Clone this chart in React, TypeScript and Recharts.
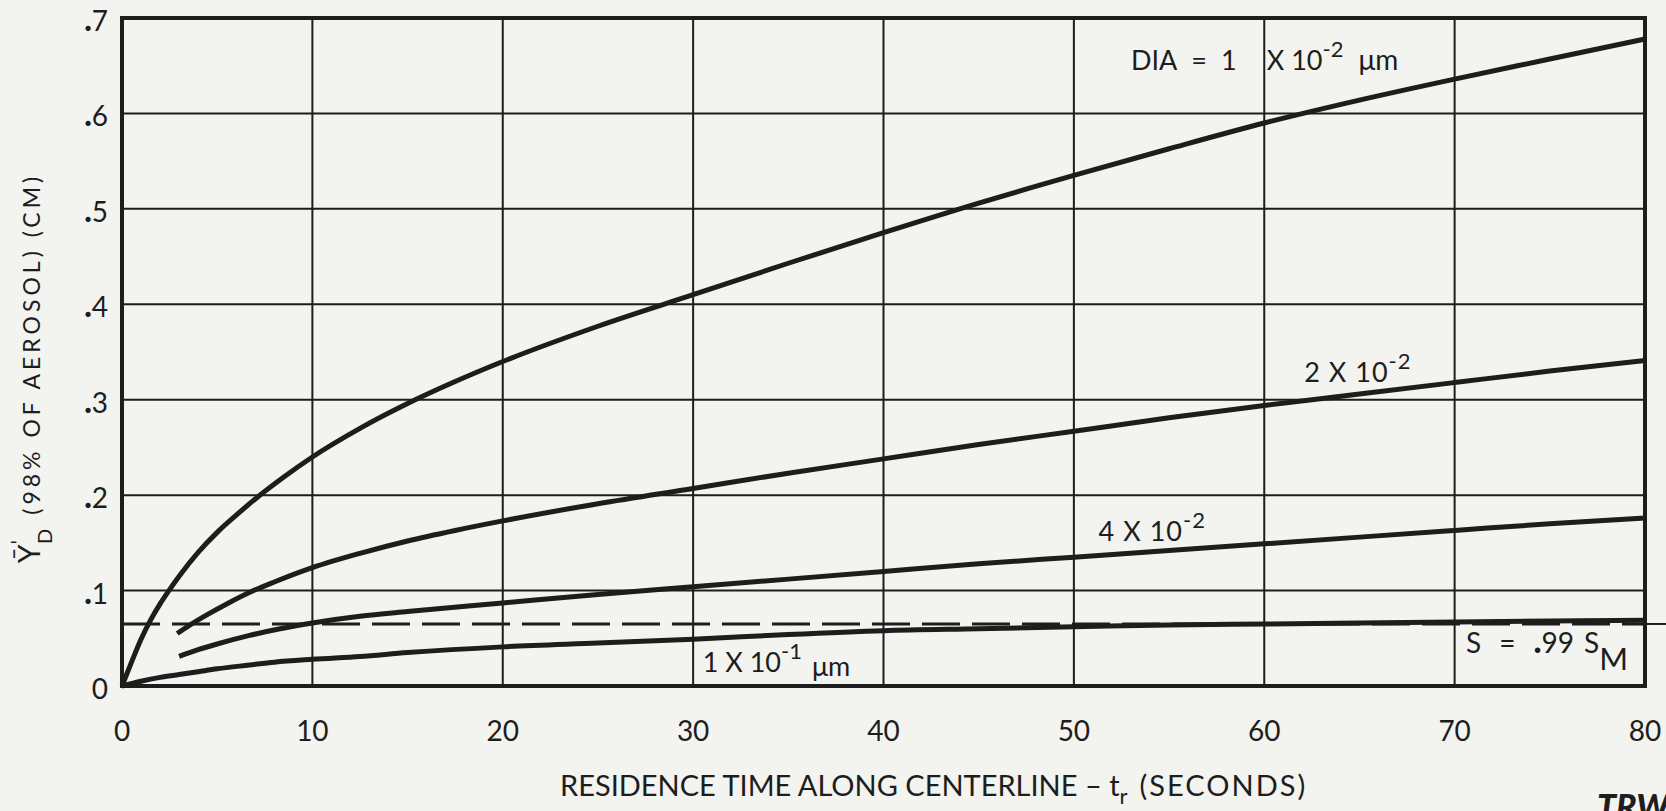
import React from 'react';
import {
  LineChart,
  Line,
  XAxis,
  YAxis,
  CartesianGrid,
  ReferenceLine,
  ReferenceDot,
  ReferenceArea,
} from 'recharts';

const INK = '#1d1d1d';
const PAPER = '#f3f3ef';
const FONT = 'Lato, "Open Sans", sans-serif';

const WIDTH = 1666;
const HEIGHT = 811;

// axis ticks: residence time (s) and penetration depth (cm)
const timeTicks = [0, 10, 20, 30, 40, 50, 60, 70, 80];
const depthTicks = [0, 0.1, 0.2, 0.3, 0.4, 0.5, 0.6, 0.7];

// DIA = 1 x 10^-2 um
const timeDia1e2 = [0, 0.5, 1, 1.5, 2, 2.5, 3, 4, 5, 6, 7, 8.5, 10, 12.5, 15, 17.5, 20, 25, 30, 35, 40, 45, 50, 55, 60, 65, 70, 75, 80];
const depthDia1e2 = [0, 0.025, 0.049, 0.069, 0.086, 0.101, 0.115, 0.14, 0.161, 0.179, 0.196, 0.219, 0.24, 0.27, 0.296, 0.319, 0.34, 0.377, 0.41, 0.443, 0.475, 0.506, 0.535, 0.563, 0.59, 0.614, 0.636, 0.657, 0.678];

// DIA = 2 x 10^-2 um
const timeDia2e2 = [2.9, 3.5, 4.5, 5.5, 6.8, 8, 10, 12.5, 15, 17.5, 20, 25, 30, 35, 40, 45, 50, 55, 60, 65, 70, 75, 80];
const depthDia2e2 = [0.055, 0.063, 0.075, 0.086, 0.099, 0.109, 0.124, 0.139, 0.152, 0.163, 0.173, 0.191, 0.207, 0.223, 0.238, 0.253, 0.267, 0.281, 0.294, 0.306, 0.318, 0.33, 0.341];

// DIA = 4 x 10^-2 um
const timeDia4e2 = [3, 4, 5, 6.7, 8.3, 10, 12.5, 15, 20, 25, 30, 35, 40, 45, 50, 55, 60, 65, 70, 75, 80];
const depthDia4e2 = [0.031, 0.038, 0.044, 0.053, 0.06, 0.066, 0.073, 0.078, 0.087, 0.096, 0.104, 0.112, 0.12, 0.128, 0.135, 0.142, 0.149, 0.156, 0.163, 0.17, 0.176];

// DIA = 1 x 10^-1 um
const timeDia1e1 = [0, 1, 2, 3, 4, 5, 6.7, 8, 10, 12.5, 15, 20, 25, 30, 35, 40, 45, 50, 55, 60, 65, 70, 75, 80];
const depthDia1e1 = [0, 0.005, 0.009, 0.012, 0.015, 0.018, 0.022, 0.025, 0.028, 0.031, 0.035, 0.041, 0.045, 0.049, 0.054, 0.058, 0.06, 0.062, 0.064, 0.065, 0.066, 0.067, 0.068, 0.069];

// S = .99 S_M saturation level
const saturationDepth = 0.065;

const toPoints = (t: number[], y: number[]) => t.map((time, i) => ({ t: time, y: y[i] }));

const curves = [
  toPoints(timeDia1e2, depthDia1e2),
  toPoints(timeDia2e2, depthDia2e2),
  toPoints(timeDia4e2, depthDia4e2),
  toPoints(timeDia1e1, depthDia1e1),
];

const textStyle = { fontFamily: FONT, fill: INK };

const XTick = ({ x, y, payload }: any) => (
  <text x={x} y={y + 55} textAnchor="middle" fontSize={28} {...textStyle}>
    {payload.value}
  </text>
);

const YTick = ({ x, y, payload }: any) => {
  const v = payload.value as number;
  return (
    <text x={x - 14} y={y + 13} textAnchor="end" fontSize={28} {...textStyle}>
      {v === 0 ? (
        '0'
      ) : (
        <>
          <tspan fontWeight={900} fontSize={32}>.</tspan>
          <tspan>{Math.round(v * 10)}</tspan>
        </>
      )}
    </text>
  );
};

// curve annotations, anchored at data coordinates
const DiaLabel = ({ cx, cy }: any) => (
  <text x={cx} y={cy} fontSize={27} {...textStyle}>
    <tspan>DIA</tspan>
    <tspan dx={14}>=</tspan>
    <tspan dx={14}>1</tspan>
    <tspan dx={30}>X 10</tspan>
    <tspan dy={-13} fontSize={22}>-2</tspan>
    <tspan dx={15} dy={13} fontSize={28}>μm</tspan>
  </text>
);

const PowerLabel = ({ cx, cy, mantissa, exponent }: any) => (
  <text x={cx} y={cy} fontSize={27} letterSpacing={1} {...textStyle}>
    <tspan>{mantissa} X 10</tspan>
    <tspan dy={-13} fontSize={22}>{exponent}</tspan>
  </text>
);

const TenthLabel = ({ cx, cy }: any) => (
  <text x={cx} y={cy} fontSize={27} {...textStyle}>
    <tspan>1 X 10</tspan>
    <tspan dy={-13} fontSize={22}>-1</tspan>
    <tspan dx={10} dy={17} fontSize={27}>μm</tspan>
  </text>
);

const SatLabel = ({ cx, cy }: any) => (
  <text x={cx} y={cy} fontSize={28} {...textStyle}>
    <tspan>S</tspan>
    <tspan dx={18}>=</tspan>
    <tspan dx={18} fontWeight={900} fontSize={34}>.</tspan>
    <tspan>99</tspan>
    <tspan dx={10}>S</tspan>
    <tspan dy={17} fontSize={31}>M</tspan>
  </text>
);

const App = () => (
  <div
    style={{
      position: 'absolute',
      left: 0,
      top: 0,
      width: WIDTH,
      height: HEIGHT,
      overflow: 'hidden',
      background: PAPER,
    }}
  >
    <LineChart width={WIDTH} height={HEIGHT} margin={{ top: 18, right: 21, bottom: 0, left: 0 }}>
      <CartesianGrid stroke={INK} strokeWidth={2} />
      <XAxis
        dataKey="t"
        type="number"
        domain={[0, 80]}
        ticks={timeTicks}
        height={125}
        axisLine={false}
        tickLine={false}
        tickSize={0}
        tickMargin={0}
        tick={<XTick />}
      />
      <YAxis
        type="number"
        domain={[0, 0.7]}
        ticks={depthTicks}
        width={122}
        axisLine={false}
        tickLine={false}
        tickSize={0}
        tickMargin={0}
        tick={<YTick />}
      />
      <ReferenceLine y={saturationDepth} stroke={INK} strokeWidth={3} strokeDasharray="38 12" />
      <ReferenceLine
        segment={[{ x: 80, y: saturationDepth }, { x: 81.2, y: saturationDepth }]}
        stroke={INK}
        strokeWidth={2}
        ifOverflow="visible"
      />
      {curves.map((points, i) => (
        <Line
          key={i}
          data={points}
          dataKey="y"
          type="monotone"
          stroke={INK}
          strokeWidth={5}
          dot={false}
          isAnimationActive={false}
        />
      ))}
      <ReferenceArea x1={0} x2={80} y1={0} y2={0.7} fill="none" stroke={INK} strokeWidth={4} />
      <ReferenceDot x={53} y={0.645} r={0} shape={(p: any) => <DiaLabel {...p} />} />
      <ReferenceDot x={62.1} y={0.319} r={0} shape={(p: any) => <PowerLabel {...p} mantissa="2" exponent="-2" />} />
      <ReferenceDot x={51.3} y={0.152} r={0} shape={(p: any) => <PowerLabel {...p} mantissa="4" exponent="-2" />} />
      <ReferenceDot x={30.5} y={0.0145} r={0} shape={(p: any) => <TenthLabel {...p} />} />
      <ReferenceDot x={70.6} y={0.0345} r={0} shape={(p: any) => <SatLabel {...p} />} />
    </LineChart>
    <svg
      width={WIDTH}
      height={HEIGHT}
      style={{ position: 'absolute', left: 0, top: 0, pointerEvents: 'none' }}
    >
      <text x={560} y={796} fontSize={29} {...textStyle}>
        <tspan>RESIDENCE TIME ALONG CENTERLINE – t</tspan>
        <tspan dy={8} fontSize={22}>r</tspan>
        <tspan dx={12} dy={-8} letterSpacing={2}>(SECONDS)</tspan>
      </text>
      <text transform="translate(40, 368) rotate(-90)" textAnchor="middle" fontSize={23} letterSpacing={4} {...textStyle}>
        <tspan fontSize={30} letterSpacing={0}>Ȳ</tspan>
        <tspan dy={-14} fontSize={22} letterSpacing={0}>'</tspan>
        <tspan dx={-4} dy={26} fontSize={20} letterSpacing={0}>D</tspan>
        <tspan dx={14} dy={-12}>(98% OF AEROSOL) (CM)</tspan>
      </text>
      <text x={1597} y={819} fontSize={34} fontWeight={900} fontStyle="italic" {...textStyle}>
        TRW
      </text>
    </svg>
  </div>
);

export default App;
